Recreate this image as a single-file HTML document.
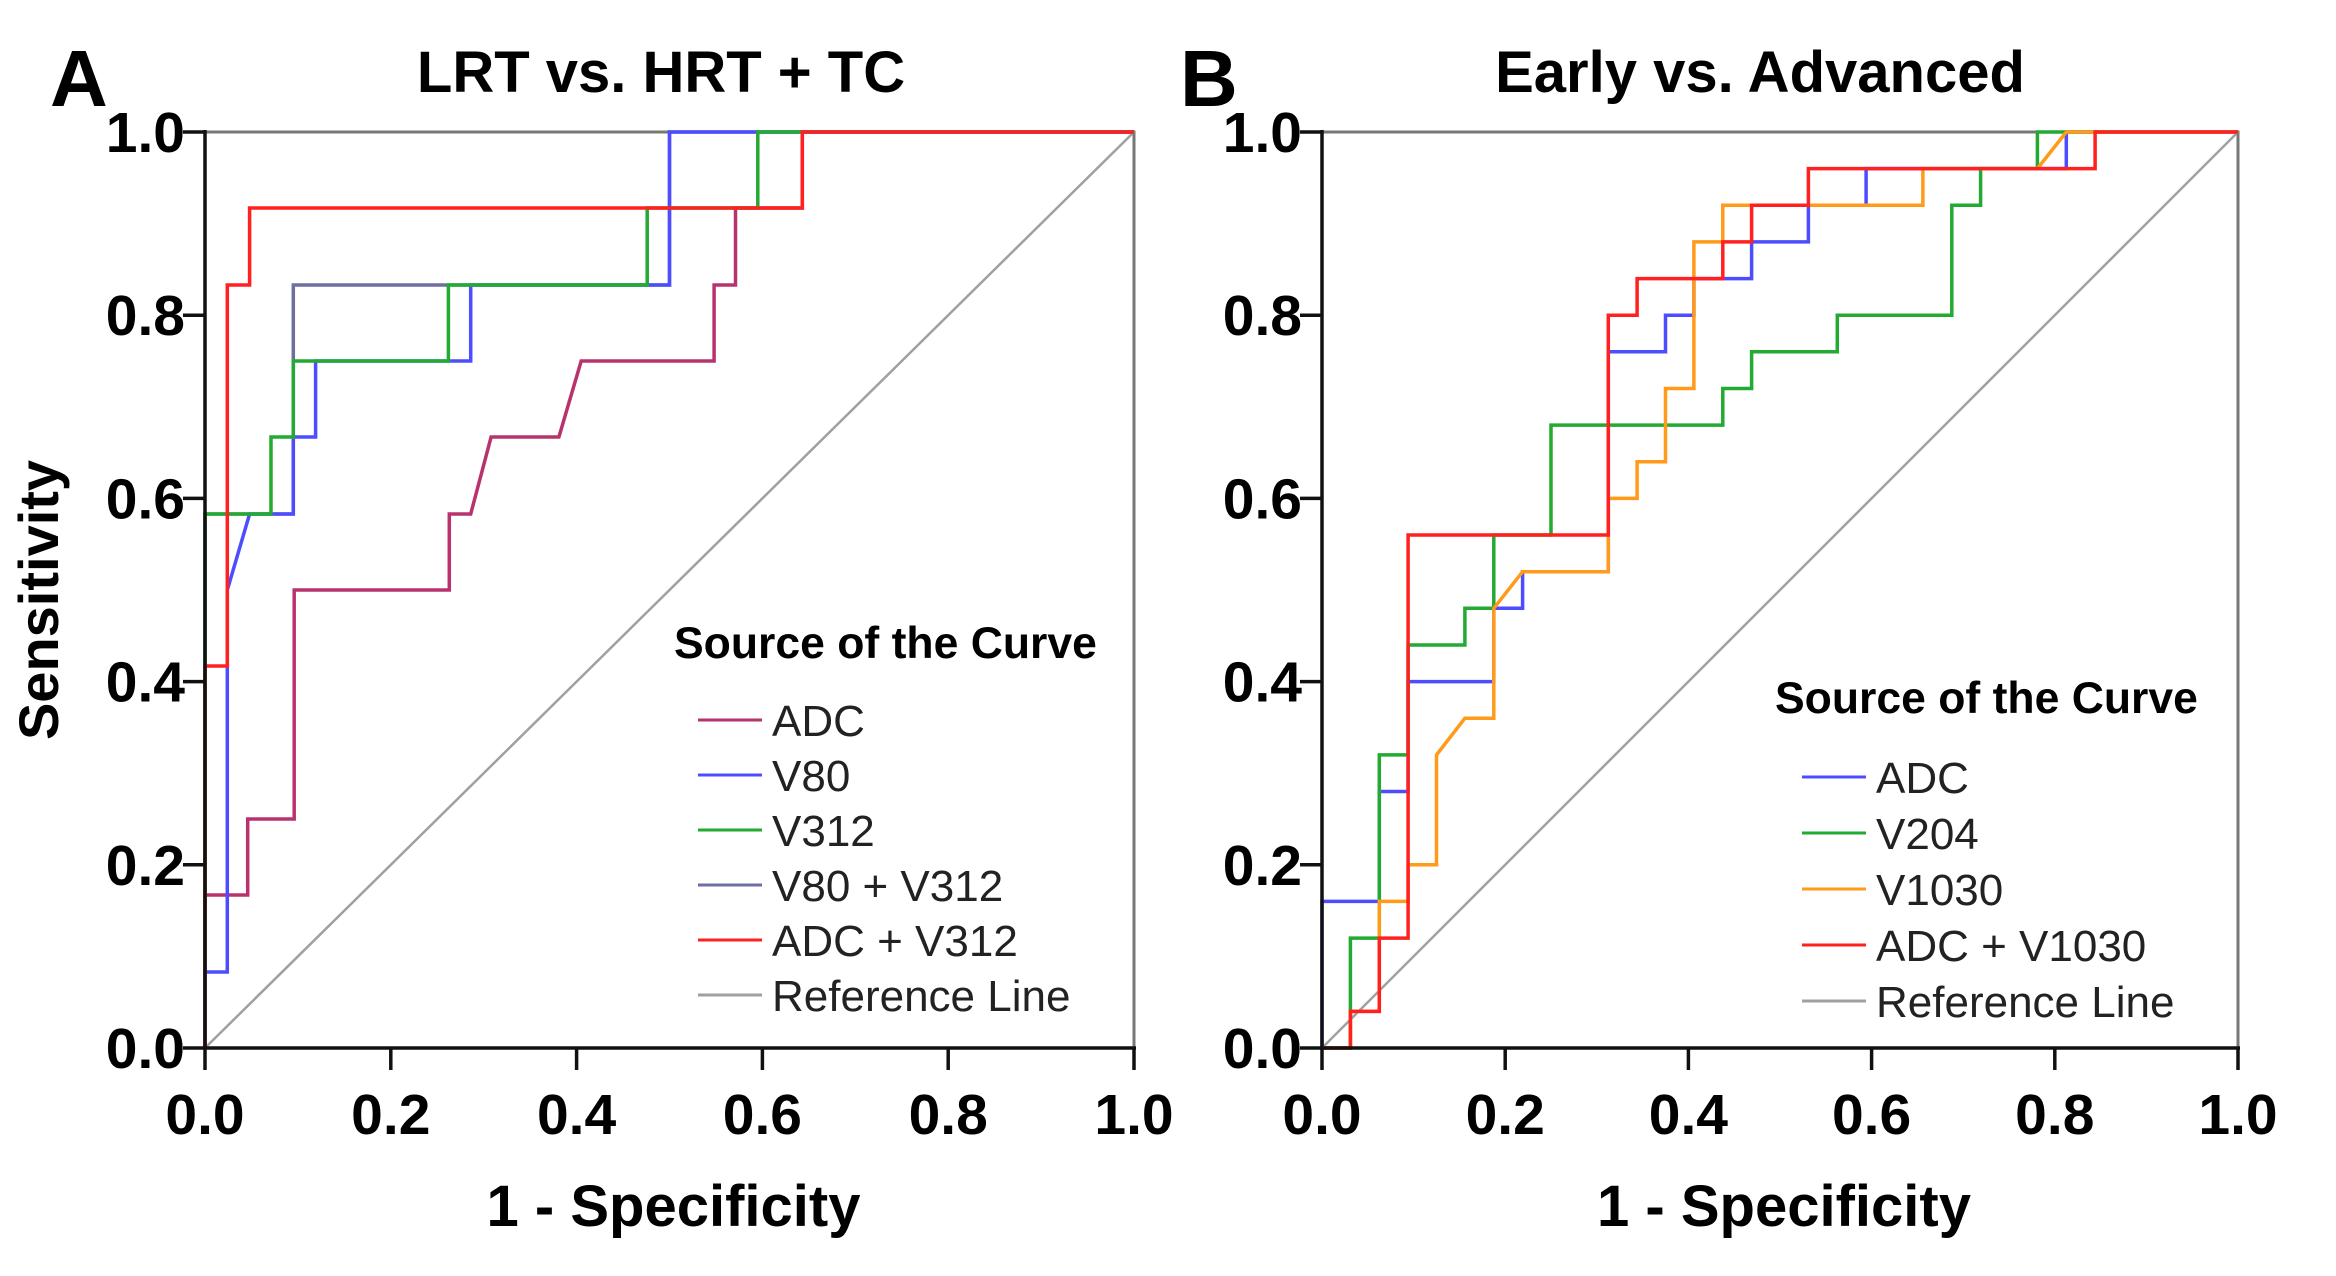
<!DOCTYPE html>
<html><head><meta charset="utf-8">
<style>
html,body{margin:0;padding:0;background:#fff;}
svg{display:block;font-family:"Liberation Sans",Arial,sans-serif;}
</style></head>
<body>
<svg id="fig" width="2336" height="1276" viewBox="0 0 2336 1276" xmlns="http://www.w3.org/2000/svg">
<rect width="2336" height="1276" fill="#fff"/>
<text x="58" y="600" transform="rotate(-90 58 600)" text-anchor="middle" font-size="56" font-weight="bold">Sensitivity</text>
</svg>
<script>
// ---- Data ----
const tickValues = [0, 0.2, 0.4, 0.6, 0.8, 1.0];
const tickLabels = ["0.0","0.2","0.4","0.6","0.8","1.0"];

// Panel A
const aNames = ["ADC","V80","V312","V80 + V312","ADC + V312"];
const aColors = ["#b8336e","#4d4dff","#22aa33","#6e6ea0","#ff2020"];
const aAdcX = [0,0,0.046,0.046,0.096,0.096,0.263,0.263,0.286,0.308,0.381,0.405,0.548,0.548,0.571,0.571,0.643,0.643,1];
const aAdcY = [0,0.167,0.167,0.25,0.25,0.5,0.5,0.583,0.583,0.667,0.667,0.75,0.75,0.833,0.833,0.917,0.917,1,1];
const aV80X = [0,0,0.024,0.024,0.048,0.095,0.095,0.119,0.119,0.286,0.286,0.5,0.5,1];
const aV80Y = [0,0.083,0.083,0.5,0.583,0.583,0.667,0.667,0.75,0.75,0.833,0.833,1,1];
const aV312X = [0,0,0.071,0.071,0.095,0.095,0.262,0.262,0.476,0.476,0.595,0.595,1];
const aV312Y = [0,0.583,0.583,0.667,0.667,0.75,0.75,0.833,0.833,0.917,0.917,1,1];
const aComboX = [0,0,0.095,0.095,0.5,0.5,1];
const aComboY = [0,0.583,0.583,0.833,0.833,1,1];
const aRedX = [0,0,0.024,0.024,0.048,0.048,0.643,0.643,1];
const aRedY = [0,0.417,0.417,0.833,0.833,0.917,0.917,1,1];

// Panel B
const bNames = ["ADC","V204","V1030","ADC + V1030"];
const bColors = ["#4d4dff","#22aa33","#ff9a1a","#ff2020"];
const bAdcX = [0,0,0.0625,0.0625,0.094,0.094,0.1875,0.1875,0.219,0.219,0.3125,0.3125,0.375,0.375,0.406,0.406,0.469,0.469,0.531,0.531,0.594,0.594,0.8125,0.8125,1];
const bAdcY = [0,0.16,0.16,0.28,0.28,0.40,0.40,0.48,0.48,0.52,0.52,0.76,0.76,0.80,0.80,0.84,0.84,0.88,0.88,0.92,0.92,0.96,0.96,1,1];
const bV204X = [0,0.031,0.031,0.0625,0.0625,0.094,0.094,0.156,0.156,0.1875,0.1875,0.25,0.25,0.4375,0.4375,0.469,0.469,0.5625,0.5625,0.6875,0.6875,0.719,0.719,0.781,0.781,1];
const bV204Y = [0,0,0.12,0.12,0.32,0.32,0.44,0.44,0.48,0.48,0.56,0.56,0.68,0.68,0.72,0.72,0.76,0.76,0.80,0.80,0.92,0.92,0.96,0.96,1,1];
const bV1030X = [0,0.031,0.031,0.0625,0.0625,0.094,0.094,0.125,0.125,0.156,0.1875,0.1875,0.219,0.3125,0.3125,0.344,0.344,0.375,0.375,0.406,0.406,0.4375,0.4375,0.656,0.656,0.781,0.8125,1];
const bV1030Y = [0,0,0.04,0.04,0.16,0.16,0.20,0.20,0.32,0.36,0.36,0.48,0.52,0.52,0.60,0.60,0.64,0.64,0.72,0.72,0.88,0.88,0.92,0.92,0.96,0.96,1,1];
const bRedX = [0,0.031,0.031,0.0625,0.0625,0.094,0.094,0.3125,0.3125,0.344,0.344,0.4375,0.4375,0.469,0.469,0.531,0.531,0.844,0.844,1];
const bRedY = [0,0,0.04,0.04,0.12,0.12,0.56,0.56,0.80,0.80,0.84,0.84,0.88,0.88,0.92,0.92,0.96,0.96,1,1];

const NS = "http://www.w3.org/2000/svg";
const svg = document.getElementById("fig");
function mk(tag, attrs, parent, text){
  const e = document.createElementNS(NS, tag);
  for (const k in attrs) e.setAttribute(k, attrs[k]);
  if (text !== undefined) e.textContent = text;
  (parent || svg).appendChild(e);
  return e;
}

function panel(cfg){
  const g = mk("g", {});
  
  
  const sx = v => cfg.x0 + v * (cfg.x1 - cfg.x0);
  const sy = v => cfg.y1 - v * (cfg.y1 - cfg.y0);
  const fr = mk("path", {d:`M${sx(0)},${sy(1)}H${sx(1)}V${sy(0)}`, fill:"none", stroke:"#777", "stroke-width":3}, g);
  
  
  const rl = mk("line", {x1:sx(0), y1:sy(0), x2:sx(1), y2:sy(1), stroke:"#a0a0a0", "stroke-width":2.5}, g);
  
  
  const order = cfg.drawOrder || cfg.series.map((s, i) => i);
  order.forEach((idx) => {
    const s = cfg.series[idx];
    const pts = s.x.map((v, j) => sx(v).toFixed(1) + "," + sy(s.y[j]).toFixed(1)).join(" ");
    const pl = mk("polyline", {points:pts, fill:"none", stroke:s.color, "stroke-width":3.5, "stroke-linejoin":"miter"}, g);
    
    
  });
  const ax = mk("path", {d:`M${sx(0)},${sy(1)-2}V${sy(0)}H${sx(1)+2}`, fill:"none", stroke:"#111", "stroke-width":3.5}, g);
  
  
  tickValues.forEach((v, i) => {
    const tx = mk("line", {x1:sx(v), y1:sy(0), x2:sx(v), y2:sy(0)+22, stroke:"#111", "stroke-width":3.5}, g);
    
    
    const lx = mk("text", {x:sx(v), y:sy(0)+86, "text-anchor":"middle", "font-size":57, "font-weight":"bold", fill:"#000"}, g, tickLabels[i]);
    
    
    const ty = mk("line", {x1:sx(0)-22, y1:sy(v), x2:sx(0), y2:sy(v), stroke:"#111", "stroke-width":3.5}, g);
    
    
    const ly = mk("text", {x:sx(0)-20, y:sy(v)+20, "text-anchor":"end", "font-size":57, "font-weight":"bold", fill:"#000"}, g, tickLabels[i]);
    
    
  });
  const xt = mk("text", {x:(sx(0)+sx(1))/2 + 4, y:1226, "text-anchor":"middle", "font-size":58, "font-weight":"bold"}, g, "1 - Specificity");
  
  
  const tt = mk("text", {x:cfg.titleX, y:92, "text-anchor":"middle", "font-size":58, "font-weight":"bold"}, g, cfg.title);
  
  
  const pl = mk("text", {x:cfg.letterX, y:106, "font-size":80, "font-weight":"bold"}, g, cfg.letter);
  
  
  const lg = mk("g", {}, g);
  
  
  const lt = mk("text", {x:cfg.legX, y:cfg.legTitleY, "font-size":44.5, "font-weight":"bold"}, lg, "Source of the Curve");
  
  
  const entries = cfg.series.map(s => ({name:s.name, color:s.color})).concat([{name:"Reference Line", color:"#a0a0a0"}]);
  entries.forEach((e, i) => {
    const y = cfg.legY0 + i * cfg.legDy;
    const eg = mk("g", {}, lg);
    
    
    mk("line", {x1:cfg.legLineX, y1:y, x2:cfg.legLineX + 64, y2:y, stroke:e.color, "stroke-width":3}, eg);
    mk("text", {x:cfg.legLineX + 74, y:y + 16, "font-size":44, fill:"#222"}, eg, e.name);
  });
}

panel({id:"a", x0:205, x1:1134, y0:132, y1:1048, title:"LRT vs. HRT + TC", titleX:661, letter:"A", letterX:50,
  legX:674, legTitleY:658, legLineX:698, legY0:720, legDy:55,
  drawOrder:[3,0,1,2,4],
  series:[
    {name:aNames[0], color:aColors[0], x:aAdcX, y:aAdcY},
    {name:aNames[1], color:aColors[1], x:aV80X, y:aV80Y},
    {name:aNames[2], color:aColors[2], x:aV312X, y:aV312Y},
    {name:aNames[3], color:aColors[3], x:aComboX, y:aComboY},
    {name:aNames[4], color:aColors[4], x:aRedX, y:aRedY}
  ]
});
panel({id:"b", x0:1322, x1:2238, y0:132, y1:1048, title:"Early vs. Advanced", titleX:1760, letter:"B", letterX:1180,
  legX:1775, legTitleY:713, legLineX:1802, legY0:777, legDy:56,
  series:[
    {name:bNames[0], color:bColors[0], x:bAdcX, y:bAdcY},
    {name:bNames[1], color:bColors[1], x:bV204X, y:bV204Y},
    {name:bNames[2], color:bColors[2], x:bV1030X, y:bV1030Y},
    {name:bNames[3], color:bColors[3], x:bRedX, y:bRedY}
  ]
});
</script>
</body></html>
